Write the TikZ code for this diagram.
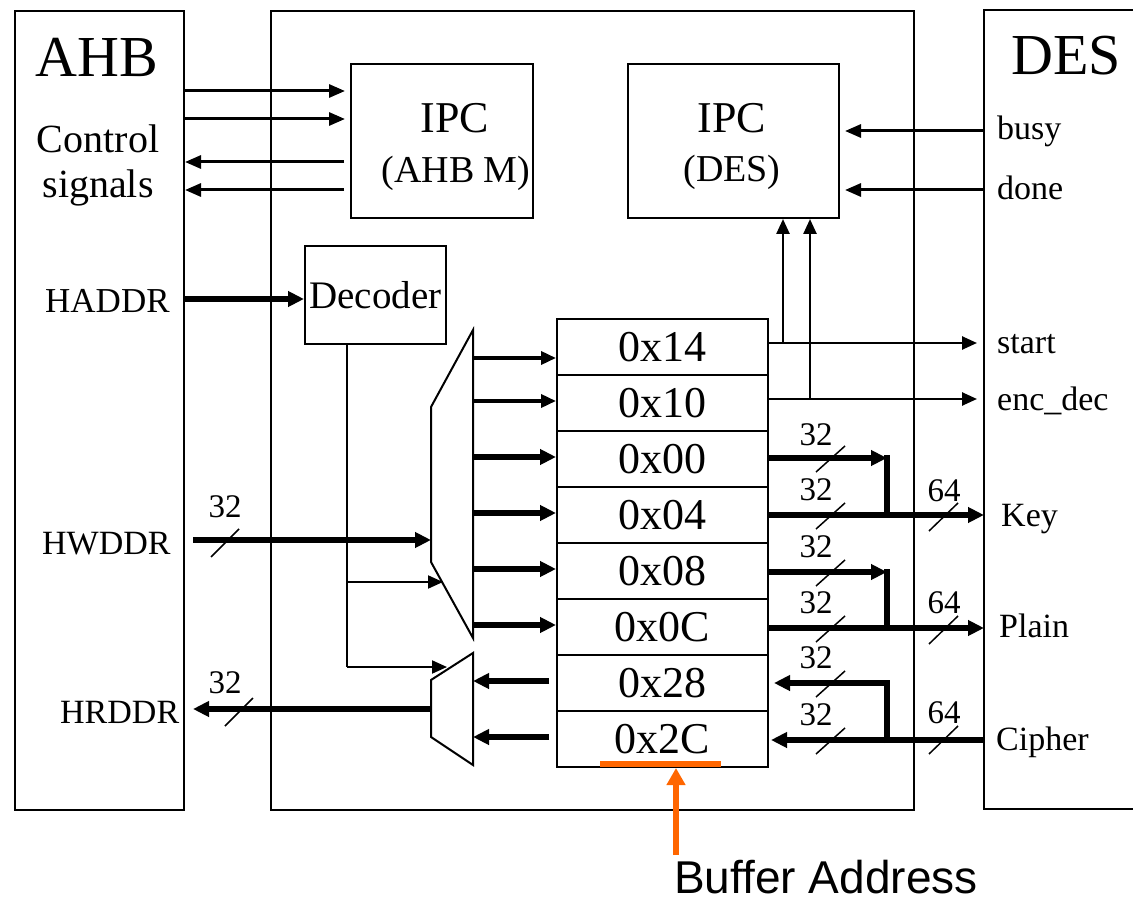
\documentclass[tikz,border=0pt]{standalone}
\usepackage{fontspec}
\setmainfont{Liberation Serif}
\newfontfamily\arialfont{Liberation Sans}
\usetikzlibrary{arrows.meta,calc}
\definecolor{bufor}{RGB}{255,102,0}
\begin{document}
\begin{tikzpicture}[x=1pt,y=-1pt,
  frame/.style={line width=2pt},
  box/.style={draw, line width=2pt, inner sep=0pt, anchor=north west},
  reg/.style={draw, line width=2pt, minimum width=211pt, minimum height=56pt, inner sep=0pt, font=\fontsize{44}{44}\selectfont},
  wire/.style={line width=2pt},
  ctlarr/.style={line width=3pt, -{Triangle[length=16pt,width=13pt]}},
  sigarr/.style={line width=2.5pt, -{Triangle[length=15pt,width=13pt]}},
  decarr/.style={line width=2pt, -{Triangle[length=15pt,width=13pt]}},
  midarr/.style={line width=3.5pt, -{Triangle[length=15pt,width=13pt]}},
  fatarr/.style={line width=6pt, -{Triangle[length=16pt,width=15pt]}},
  bus/.style={line width=6pt},
  slash/.style={line width=1.5pt},
  lbl/.style={font=\fontsize{34}{34}\selectfont, anchor=base west, inner sep=0pt},
  num/.style={font=\fontsize{33}{33}\selectfont, anchor=base, inner sep=0pt},
  big/.style={font=\fontsize{58}{58}\selectfont, anchor=base, inner sep=0pt},
  mid/.style={font=\fontsize{40}{40}\selectfont, anchor=base, inner sep=0pt},
  ipct/.style={font=\fontsize{44}{44}\selectfont, anchor=base, inner sep=0pt},
  ipcs/.style={font=\fontsize{38}{38}\selectfont, anchor=base, inner sep=0pt},
]
\useasboundingbox (0,0) rectangle (1133,901);

% ---- outer blocks
\node[box, minimum width=169pt, minimum height=799pt] (ahb) at (14,10) {};
\node[box, minimum width=643pt, minimum height=799pt] (core) at (270,10) {};
\coordinate (desnw) at (984,10);
\coordinate (dessw) at (984,809);
\draw[frame] (1133,10) -- (desnw) -- (dessw) -- (1133,809);

\node[big] (ahbT) at (97,77) {AHB};
\node[big] (desT) at (1066,75) {DES};
\node[mid] (ctl1) at (98,153) {Control};
\node[mid] (ctl2) at (98,198) {signals};

% ---- IPC blocks
\node[box, minimum width=182pt, minimum height=154pt] (ipca) at (350,63) {};
\node[ipct] (ipcaT) at (455,133) {IPC};
\node[ipcs] (ipcaS) at (456,183) {(AHB M)};
\node[box, minimum width=211pt, minimum height=154pt] (ipcd) at (627,63) {};
\node[ipct] (ipcdT) at (732,133) {IPC};
\node[ipcs] (ipcdS) at (732,182) {(DES)};

% control signals
\draw[ctlarr, shorten >=5pt] (ahb.east |- 0,91) -- (ipca.west |- 0,91);
\draw[ctlarr, shorten >=5pt] (ahb.east |- 0,119) -- (ipca.west |- 0,119);
\draw[ctlarr, shorten <=6pt] (ipca.west |- 0,162) -- (ahb.east |- 0,162);
\draw[ctlarr, shorten <=6pt] (ipca.west |- 0,190) -- (ahb.east |- 0,190);

% busy / done
\draw[ctlarr, shorten >=5pt] (desnw |- 0,131) -- (ipcd.east |- 0,131);
\draw[ctlarr, shorten >=5pt] (desnw |- 0,190) -- (ipcd.east |- 0,190);
\node[lbl] (busy) at (997,140) {busy};
\node[lbl] (done) at (997,200) {done};

% ---- decoder
\node[box, minimum width=141pt, minimum height=98pt, font=\fontsize{39}{39}\selectfont] (dec) at (304,245) {Decoder};
\node[lbl, font=\fontsize{35}{35}\selectfont] (haddr) at (45,313) {HADDR};
\draw[fatarr] (ahb.east |- 0,299) -- (dec.west |- 0,299);

% ---- multiplexers
\coordinate (m1a) at (473,330);
\coordinate (m1b) at (473,638);
\coordinate (m1c) at (431,562);
\coordinate (m1d) at (431,407);
\draw[wire] (m1a) -- (m1b) -- (m1c) -- (m1d) -- cycle;
\coordinate (m2a) at (473,653);
\coordinate (m2b) at (473,765);
\coordinate (m2c) at (431,737);
\coordinate (m2d) at (431,680);
\draw[wire] (m2a) -- (m2b) -- (m2c) -- (m2d) -- cycle;

% HWDDR
\node[lbl] (hwddr) at (42,554) {HWDDR};
\coordinate (hws) at (193,540);
\draw[fatarr] (hws) -- (m1d |- hws);
\node[num] (n32a) at (225,517) {32};
\draw[slash] (211,557) -- (239,529);

% HRDDR
\node[lbl] (hrddr) at (60,723) {HRDDR};
\coordinate (hre) at (193,709);
\draw[fatarr] (m2d |- hre) -- (hre);
\node[num] (n32b) at (225,693) {32};
\draw[slash] (225,726) -- (253,698);

% decoder select lines
\coordinate (dv) at (dec.south -| 347,0);
\coordinate (dj1) at (347,582);
\coordinate (dj2) at (347,667);
\draw[wire] (dv) -- (dj2);
\draw[decarr] (dj1) -- (443,582);
\draw[decarr] (dj2) -- (447,667);

% ---- registers
\node[reg] (r14) at (662.5,347) {0x14};
\node[reg] (r10) at (662.5,403) {0x10};
\node[reg] (r00) at (662.5,459) {0x00};
\node[reg] (r04) at (662.5,515) {0x04};
\node[reg] (r08) at (662.5,571) {0x08};
\node[reg] (r0C) at (662.5,627) {0x0C};
\node[reg] (r28) at (662.5,683) {0x28};
\node[reg] (r2C) at (662.5,739) {0x2C};

% mux -> registers
\draw[midarr] (m1a |- 0,358) -- (r14.west |- 0,358);
\draw[midarr] (m1a |- 0,401) -- (r10.west |- 0,401);
\draw[fatarr] (m1a |- 0,457) -- (r00.west |- 0,457);
\draw[fatarr] (m1a |- 0,513) -- (r04.west |- 0,513);
\draw[fatarr] (m1a |- 0,569) -- (r08.west |- 0,569);
\draw[fatarr] (m1a |- 0,625) -- (r0C.west |- 0,625);
% registers -> mux2
\draw[fatarr, shorten <=7pt] (r28.west |- 0,681) -- (m2a |- 0,681);
\draw[fatarr, shorten <=7pt] (r2C.west |- 0,737) -- (m2a |- 0,737);

% start / enc_dec
\draw[sigarr, shorten >=7pt] (r14.east |- 0,343) -- (desnw |- 0,343);
\draw[sigarr, shorten >=7pt] (r10.east |- 0,399) -- (desnw |- 0,399);
\draw[sigarr] (783,343) -- (ipcd.south -| 783,0);
\draw[sigarr] (810,399) -- (ipcd.south -| 810,0);
\node[lbl] (start) at (997,354) {start};
\node[lbl] (encdec) at (997,410) {enc\_dec};

% Key
\coordinate (kj1) at (887,458);
\coordinate (kj2) at (887,515);
\draw[fatarr] (r00.east |- kj1) -- (kj1);
\draw[bus] (887,455) -- (kj2);
\draw[fatarr] (r04.east |- kj2) -- (desnw |- kj2);
\node[num] (k32a) at (816,445) {32};
\draw[slash] (816,472) -- (845,446);
\node[num] (k32b) at (816,500) {32};
\draw[slash] (816,529) -- (845,503);
\node[num] (k64) at (944,501) {64};
\draw[slash] (929,531) -- (958,503);
\node[lbl] (key) at (1001,526) {Key};

% Plain
\coordinate (pj1) at (887,572);
\coordinate (pj2) at (887,628);
\draw[fatarr] (r08.east |- pj1) -- (pj1);
\draw[bus] (887,569) -- (pj2);
\draw[fatarr] (r0C.east |- pj2) -- (desnw |- pj2);
\node[num] (p32a) at (816,557) {32};
\draw[slash] (816,586) -- (845,560);
\node[num] (p32b) at (816,613) {32};
\draw[slash] (816,642) -- (845,616);
\node[num] (p64) at (944,613) {64};
\draw[slash] (929,644) -- (958,616);
\node[lbl] (plain) at (999,637) {Plain};

% Cipher
\coordinate (cj1) at (887,683);
\coordinate (cj2) at (887,740);
\draw[bus] (desnw |- cj2) -- (cj2);
\draw[fatarr] (cj2) -- ($(r2C.east |- cj2)+(2,0)$);
\draw[bus] (887,743) -- (cj1) -- (884,683);
\draw[fatarr] (cj1) -- ($(r28.east |- cj1)+(5,0)$);
\node[num] (c32a) at (816,668) {32};
\draw[slash] (816,697) -- (845,671);
\node[num] (c32b) at (816,725) {32};
\draw[slash] (816,754) -- (845,728);
\node[num] (c64) at (944,723) {64};
\draw[slash] (929,754) -- (958,726);
\node[lbl] (cipher) at (996,750) {Cipher};

% ---- buffer address
\draw[bufor, line width=5.5pt] (600,764) -- (721,764);
\node[font=\arialfont\fontsize{46}{46}\selectfont, anchor=base west, inner sep=0pt, text depth=0pt] (buf) at (674,893) {Buffer Address};
\coordinate (bufs) at (676,855);
\draw[bufor, line width=5.5pt, -{Triangle[length=17pt,width=18pt]}] (bufs) -- (r2C.south -| bufs);
\end{tikzpicture}
\end{document}
